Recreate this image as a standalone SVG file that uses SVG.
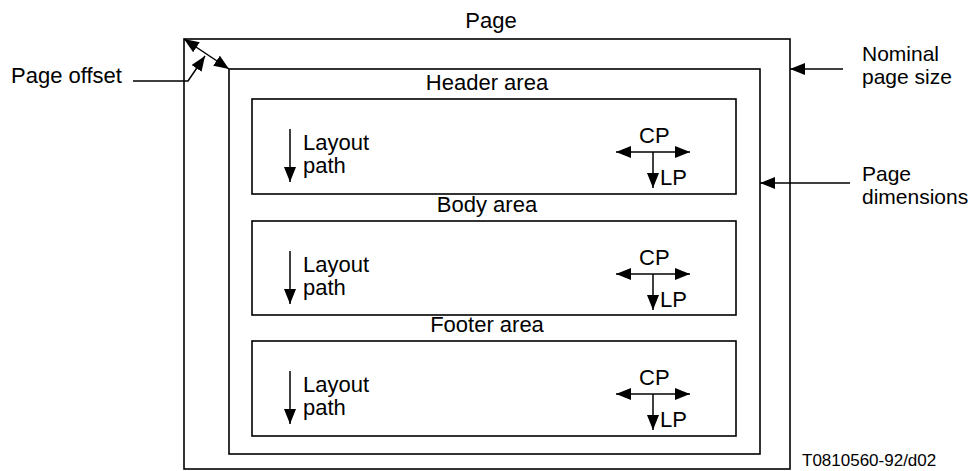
<svg xmlns="http://www.w3.org/2000/svg" width="973" height="471" viewBox="0 0 973 471">
  <style>
    .frame { fill: none; stroke: #000; stroke-width: 1.6; }
    .ln { fill: none; stroke: #000; stroke-width: 1.5; }
    .lbl { font-family: "Liberation Sans", Arial, sans-serif; font-size: 22px; fill: #000; }
    .side { font-size: 21px; }
    .ref { font-family: "Liberation Sans", Arial, sans-serif; font-size: 17px; fill: #000; }
    .mid { text-anchor: middle; }
  </style>
  <defs>
    <marker id="ah" viewBox="0 0 15 12" refX="15" refY="6" markerWidth="15" markerHeight="12" markerUnits="userSpaceOnUse" orient="auto-start-reverse">
      <path d="M0,0 L15,6 L0,12 Z" fill="#000"/>
    </marker>
    <!-- reusable area contents: layout path arrow and CP/LP direction cross -->
    <g id="paths">
      <line class="ln" x1="290" y1="129" x2="290" y2="182" marker-end="url(#ah)"/>
      <text class="lbl" x="303" y="150">Layout</text>
      <text class="lbl" x="303" y="173">path</text>
      <line class="ln" x1="616" y1="152" x2="690" y2="152" marker-start="url(#ah)" marker-end="url(#ah)"/>
      <line class="ln" x1="653" y1="152" x2="653" y2="188" marker-end="url(#ah)"/>
      <text class="lbl" x="639" y="143">CP</text>
      <text class="lbl" x="660" y="185">LP</text>
    </g>
  </defs>

  <g id="page">
    <rect class="frame" x="184" y="39" width="606" height="430"/>
    <text class="lbl mid" x="491" y="28">Page</text>
  </g>

  <g id="page-dimensions">
    <rect class="frame" x="229" y="69" width="531" height="385"/>
  </g>

  <g id="header-area">
    <text class="lbl mid" x="487" y="90">Header area</text>
    <rect class="frame" x="252" y="99" width="484" height="95"/>
    <use href="#paths"/>
  </g>

  <g id="body-area">
    <text class="lbl mid" x="487" y="212">Body area</text>
    <rect class="frame" x="252" y="221" width="484" height="94"/>
    <use href="#paths" transform="translate(0,122)"/>
  </g>

  <g id="footer-area">
    <text class="lbl mid" x="487" y="332">Footer area</text>
    <rect class="frame" x="252" y="341" width="484" height="95"/>
    <use href="#paths" transform="translate(0,242)"/>
  </g>

  <g id="labels">
    <text class="lbl" x="11" y="83">Page offset</text>
    <text class="lbl side" x="862" y="61">Nominal</text>
    <text class="lbl side" x="862" y="84">page size</text>
    <text class="lbl side" x="862" y="181">Page</text>
    <text class="lbl side" x="862" y="204">dimensions</text>
    <text class="ref" x="802" y="466">T0810560-92/d02</text>
  </g>

  <g id="connectors">
    <!-- page offset: double arrow between the two frame corners -->
    <line class="ln" x1="184" y1="39" x2="229" y2="69" marker-start="url(#ah)" marker-end="url(#ah)"/>
    <polyline class="ln" points="133,81 188,81 205,56" marker-end="url(#ah)"/>
    <line class="ln" x1="843" y1="69" x2="790" y2="69" marker-end="url(#ah)"/>
    <line class="ln" x1="850" y1="183" x2="760" y2="183" marker-end="url(#ah)"/>
  </g>
</svg>
